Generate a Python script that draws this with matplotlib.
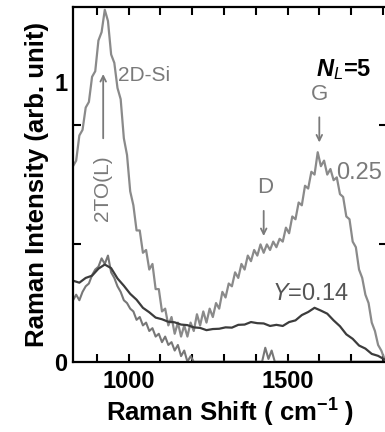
import numpy as np
import matplotlib
matplotlib.use("Agg")
import matplotlib.pyplot as plt

plt.rcParams['font.family'] = ['Liberation Sans', 'DejaVu Sans']
plt.rcParams['mathtext.fontset'] = 'custom'
plt.rcParams['mathtext.rm'] = 'Liberation Sans'
plt.rcParams['mathtext.it'] = 'Liberation Sans:italic'
plt.rcParams['mathtext.bf'] = 'Liberation Sans:bold'
plt.rcParams['mathtext.bfit'] = 'Liberation Sans:bold:italic'

# Raman shift grid (cm-1)
shift_y025 = np.arange(825, 1816, 10)
# Y = 0.25 spectrum (2D-Si + D/G bands)
int_y025 = [0.70, 0.72, 0.81, 0.83, 0.91, 0.93, 1.02, 1.04, 1.15, 1.18,
            1.26, 1.22, 1.10, 1.07, 0.98, 0.94, 0.80, 0.74, 0.61, 0.56,
            0.47, 0.47, 0.39, 0.40, 0.33, 0.35, 0.26, 0.26, 0.18, 0.19,
            0.13, 0.16, 0.10, 0.14, 0.09, 0.13, 0.09, 0.14, 0.11, 0.17,
            0.13, 0.18, 0.14, 0.19, 0.16, 0.21, 0.19, 0.25, 0.23, 0.28,
            0.27, 0.32, 0.30, 0.35, 0.33, 0.38, 0.36, 0.40, 0.38, 0.42,
            0.39, 0.42, 0.40, 0.43, 0.41, 0.44, 0.43, 0.48, 0.46, 0.52,
            0.51, 0.57, 0.56, 0.63, 0.62, 0.68, 0.67, 0.75, 0.70, 0.72,
            0.67, 0.69, 0.65, 0.66, 0.60, 0.59, 0.52, 0.51, 0.43, 0.41,
            0.33, 0.30, 0.24, 0.21, 0.14, 0.11, 0.06, 0.04, 0.01, 0.00]

# Y = 0.14 spectrum
shift_y014 = np.arange(825, 1816, 20)
int_y014 = [0.290, 0.283, 0.300, 0.308, 0.333, 0.348, 0.335, 0.298, 0.272, 0.243,
            0.222, 0.193, 0.177, 0.158, 0.152, 0.143, 0.141, 0.133, 0.131, 0.123,
            0.121, 0.113, 0.117, 0.118, 0.123, 0.122, 0.132, 0.133, 0.142, 0.138,
            0.137, 0.128, 0.132, 0.128, 0.142, 0.148, 0.167, 0.178, 0.193, 0.183,
            0.172, 0.148, 0.127, 0.098, 0.082, 0.058, 0.047, 0.028, 0.021, 0.008]

# third spectrum (low-energy band only)
shift_c = [825, 835, 845, 855, 865, 875, 885, 895, 905, 915,
           925, 935, 945, 955, 965, 975, 985, 995, 1005, 1015,
           1025, 1035, 1045, 1055, 1065, 1075, 1085, 1095, 1105, 1115,
           1125, 1135, 1145, 1155, 1165, 1175, 1185, 1195, 1205, 1300,
           1420, 1430, 1440, 1450, 1460, 1815]
int_c = [0.22, 0.24, 0.22, 0.25, 0.27, 0.28, 0.31, 0.33, 0.34, 0.37,
         0.35, 0.38, 0.32, 0.30, 0.27, 0.25, 0.22, 0.21, 0.19, 0.18,
         0.15, 0.16, 0.13, 0.14, 0.11, 0.12, 0.09, 0.10, 0.07, 0.09,
         0.06, 0.07, 0.04, 0.06, 0.02, 0.04, 0.00, 0.02, 0.00, 0.00,
         0.00, 0.05, 0.01, 0.04, 0.00, 0.00]

fig = plt.figure(figsize=(3.85, 4.32), dpi=100)
ax = fig.add_axes([0.1896, 0.1627, 0.8156, 0.8211])

ax.plot(shift_y025, int_y025, color='#8a8a8a', lw=1.6)
ax.plot(shift_c, int_c, color='#777777', lw=1.5)
ax.plot(shift_y014, int_y014, color='#3c3c3c', lw=1.6)

ax.set_xlim(825, 1813)
ax.set_ylim(0, 1.27)

for s in ax.spines.values():
    s.set_linewidth(1.6)

ax.set_xticks([1000, 1500])
ax.set_xticks(np.arange(900, 1801, 100), minor=True)
ax.set_yticks([0, 1])
ax.set_yticks([0.423, 0.846], minor=True)
ax.tick_params(axis='both', which='both', direction='in', top=True, right=True,
               width=1.5, labelsize=17)
ax.tick_params(axis='x', which='both', length=6, pad=6)
ax.tick_params(axis='y', which='major', length=0, pad=4)
ax.tick_params(axis='y', which='minor', length=6)
for lb in ax.get_xticklabels() + ax.get_yticklabels():
    lb.set_fontweight('bold')

ax.set_xlabel(r'Raman Shift ( cm$^{\mathbf{-1}}$ )', fontsize=18.5, fontweight='bold', labelpad=3)
ax.set_ylabel('Raman Intensity (arb. unit)', fontsize=18.5, fontweight='bold', labelpad=4)

gray = '#7a7a7a'
ax.text(967, 1.025, '2D-Si', color=gray, fontsize=15, va='center', ha='left')
ax.text(918, 0.62, '2TO(L)', color=gray, fontsize=15, rotation=90, va='center', ha='center')
ax.annotate('', xy=(920, 1.04), xytext=(920, 0.79),
            arrowprops=dict(arrowstyle='->', color=gray, lw=1.3))
ax.text(1600, 0.955, 'G', color=gray, fontsize=16, va='center', ha='center')
ax.annotate('', xy=(1600, 0.775), xytext=(1600, 0.885),
            arrowprops=dict(arrowstyle='->', color=gray, lw=1.3))
ax.text(1430, 0.625, 'D', color=gray, fontsize=16, va='center', ha='center')
ax.annotate('', xy=(1425, 0.44), xytext=(1425, 0.55),
            arrowprops=dict(arrowstyle='->', color=gray, lw=1.3))
ax.text(1654, 0.676, '0.25', color=gray, fontsize=17, va='center', ha='left')
ax.text(1452, 0.243, r'$Y$=0.14', color='#555555', fontsize=17, va='center', ha='left')
ax.text(1590, 1.045, r'$\mathbfit{N}_{\mathit{L}}$=5', color='black', fontsize=17,
        fontweight='bold', va='center', ha='left')

fig.savefig('out.png', dpi=100)
